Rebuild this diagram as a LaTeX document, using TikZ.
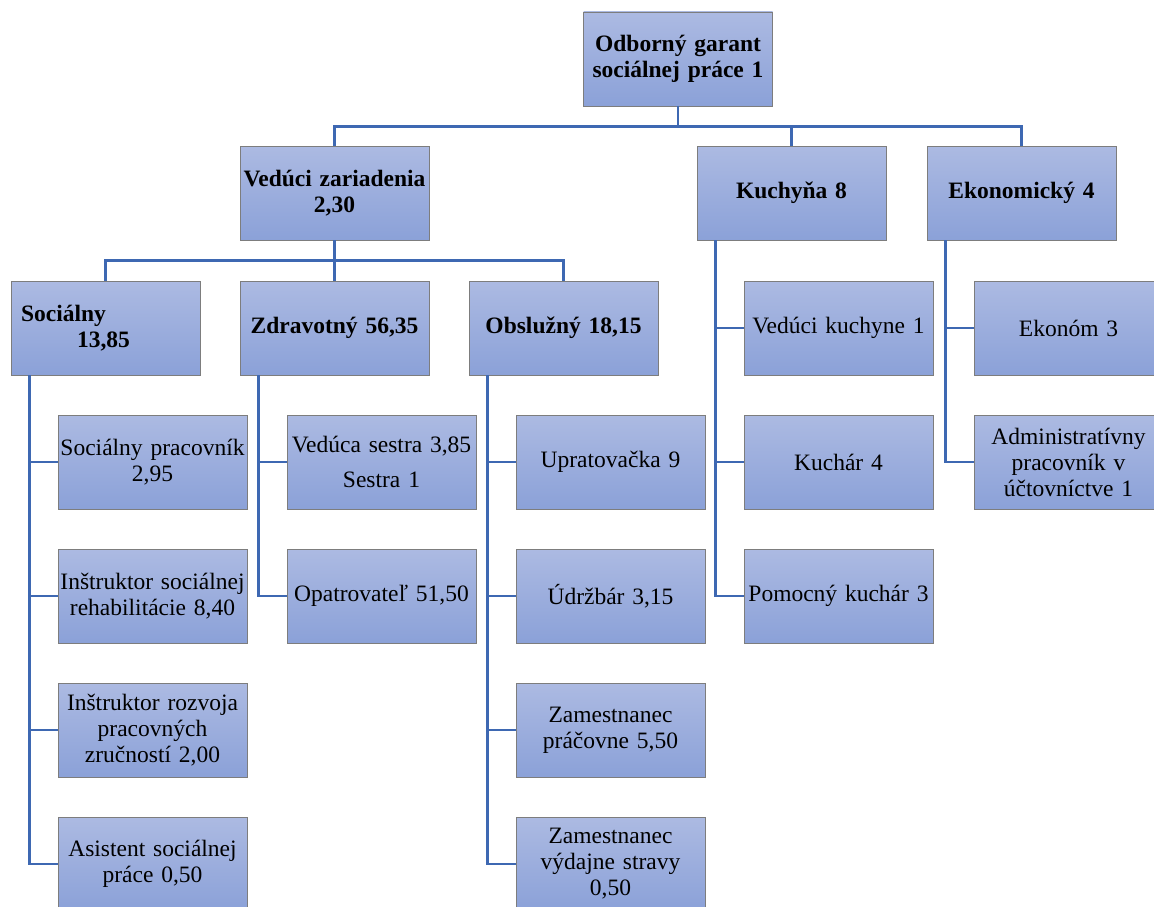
\documentclass[tikz,border=0pt]{standalone}
\usepackage{fontspec}
\setmainfont{Liberation Serif}
\usetikzlibrary{positioning}

\definecolor{boxtop}{RGB}{172,186,226}
\definecolor{boxbottom}{RGB}{139,161,216}
\definecolor{boxline}{RGB}{125,125,125}
\definecolor{linkblue}{RGB}{62,104,178}

\tikzset{
  orgbox/.style={draw=boxline, line width=0.8pt, top color=boxtop, bottom color=boxbottom,
    minimum width=189pt, minimum height=94pt, text width=185pt, align=center, inner sep=0pt,
    font=\fontsize{23.5}{26}\selectfont},
  headbox/.style={orgbox, font=\fontsize{23.5}{26}\selectfont\bfseries},
  link/.style={draw=linkblue, line width=2.6pt}
}

\begin{document}
\begin{tikzpicture}[x=1pt,y=-1pt]
  \clip (0,0) rectangle (1154,907);

  % top levels
  \node[headbox] (garant) at (678,59) {Odborný garant\\sociálnej práce 1};
  \node[headbox] (veduci) at (334.5,193) {Vedúci zariadenia\\2,30};
  \node[headbox] (kuchyna) at (791.5,193) {Kuchyňa 8};
  \node[headbox] (ekonomicky) at (1021.5,193) {Ekonomický 4};

  \node[headbox, align=left] (socialny) at (105.5,328) {\hspace*{8pt}Sociálny\\\hspace*{64pt}13,85};
  \node[headbox] (zdravotny) at (334.5,328) {Zdravotný 56,35};
  \node[headbox] (obsluzny) at (563.5,328) {Obslužný 18,15};

  % staff
  \node[orgbox] (soc1) at (152.5,462) {Sociálny pracovník\\2,95};
  \node[orgbox] (soc2) at (152.5,596) {Inštruktor sociálnej\\rehabilitácie 8,40};
  \node[orgbox] (soc3) at (152.5,730) {Inštruktor rozvoja\\pracovných\\zručností 2,00};
  \node[orgbox] (soc4) at (152.5,864) {Asistent sociálnej\\práce 0,50};

  \node[orgbox] (zdr1) at (381.5,462) {Vedúca sestra 3,85\\[9pt]Sestra 1};
  \node[orgbox] (zdr2) at (381.5,596) {Opatrovateľ 51,50};

  \node[orgbox] (obs1) at (610.5,462) {Upratovačka 9};
  \node[orgbox] (obs2) at (610.5,596) {Údržbár 3,15};
  \node[orgbox] (obs3) at (610.5,730) {Zamestnanec\\práčovne 5,50};
  \node[orgbox] (obs4) at (610.5,864) {Zamestnanec\\výdajne stravy\\0,50};

  \node[orgbox] (kuch1) at (838.5,328) {Vedúci kuchyne 1};
  \node[orgbox] (kuch2) at (838.5,462) {Kuchár 4};
  \node[orgbox] (kuch3) at (838.5,596) {Pomocný kuchár 3};

  \node[orgbox] (ekon1) at (1068.5,328) {Ekonóm 3};
  \node[orgbox] (ekon2) at (1068.5,462) {Administratívny\\pracovník v\\účtovníctve 1};

  % connectors
  \draw[link] (garant.south) -- ++(0,20) coordinate (hubtop);
  \draw[link] (veduci.north) |- (hubtop) -| (ekonomicky.north);
  \draw[link] (kuchyna.north) |- (hubtop);

  \draw[link] (veduci.south) -- ++(0,20) coordinate (hubmid);
  \draw[link] (socialny.north) |- (hubmid) -| (obsluzny.north);
  \draw[link] (zdravotny.north) -- (hubmid);

  \foreach \k in {soc1,soc2,soc3,soc4}
    \draw[link] ([xshift=19pt]socialny.south west) |- (\k.west);
  \foreach \k in {zdr1,zdr2}
    \draw[link] ([xshift=19pt]zdravotny.south west) |- (\k.west);
  \foreach \k in {obs1,obs2,obs3,obs4}
    \draw[link] ([xshift=19pt]obsluzny.south west) |- (\k.west);
  \foreach \k in {kuch1,kuch2,kuch3}
    \draw[link] ([xshift=19pt]kuchyna.south west) |- (\k.west);
  \foreach \k in {ekon1,ekon2}
    \draw[link] ([xshift=19pt]ekonomicky.south west) |- (\k.west);
\end{tikzpicture}
\end{document}
